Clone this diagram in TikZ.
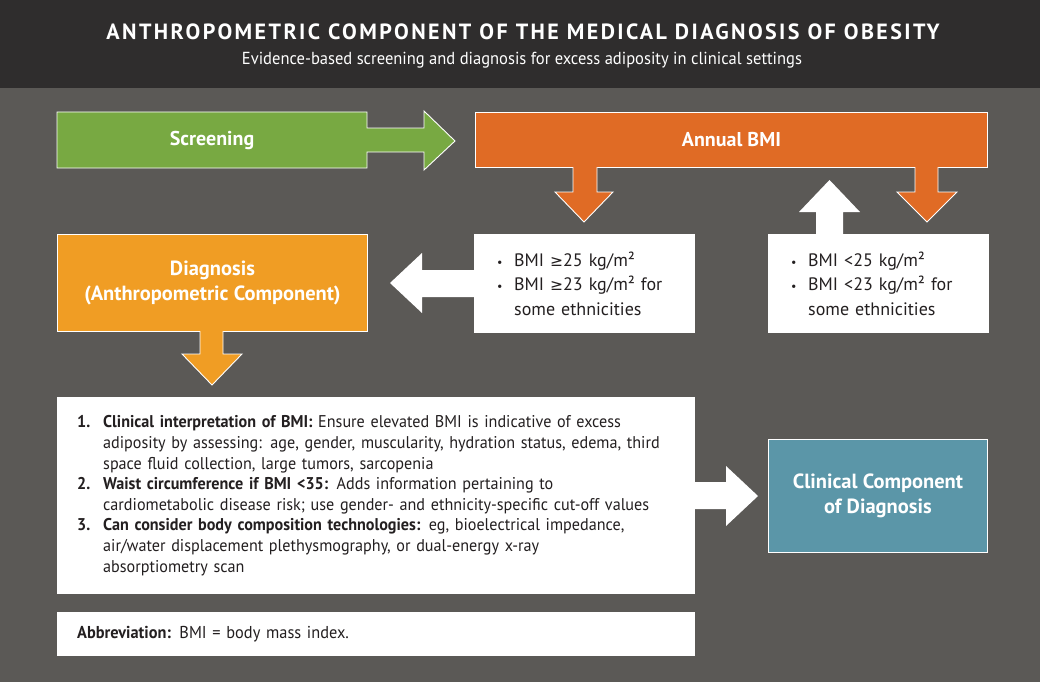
\documentclass[tikz,border=0pt]{standalone}
\usepackage{fontspec}
\setmainfont{PT Sans}
\newfontfamily\symf{DejaVu Sans}
\newfontfamily\condf[FakeStretch=0.95]{PT Sans}
\newfontfamily\subf[FakeStretch=0.95]{PT Sans}
\newfontfamily\titlef[LetterSpace=11]{PT Sans}
\definecolor{bg}{HTML}{5B5956}
\definecolor{titlebar}{HTML}{2F2D2D}
\definecolor{grn}{HTML}{78A942}
\definecolor{org}{HTML}{E06B25}
\definecolor{yel}{HTML}{F09D24}
\definecolor{tealbox}{HTML}{5B96A8}
\definecolor{ink}{HTML}{231F20}
\tikzset{
  colbox/.style={draw=white, line width=0.9pt, text=white, inner sep=0pt, anchor=north west,
     font=\bfseries\fontsize{20}{26}\selectfont, align=center},
  whitebox/.style={fill=white, draw=none, text=ink, anchor=north west, inner ysep=0pt},
  outl/.style={draw=white, line width=0.9pt, line join=miter},
}
\newcommand{\gesym}{{\symf\fontsize{15.5}{15.5}\selectfont ≥}}
\newcommand{\bul}{\makebox[17pt][l]{\fontsize{12}{12}\selectfont •}}
\begin{document}
\begin{tikzpicture}[x=1pt,y=-1pt]
\useasboundingbox (0,0) rectangle (1040,682);
\fill[bg] (0,0) rectangle (1040,682);
\fill[titlebar] (0,0) rectangle (1040,88);
\node[text=white, font=\titlef\bfseries\fontsize{22}{26}\selectfont] (title) at (523,32)
  {ANTHROPOMETRIC COMPONENT OF THE MEDICAL DIAGNOSIS OF OBESITY};
\node[text=white, font=\subf\fontsize{17.4}{20}\selectfont] (subtitle) at (522,60)
  {Evidence-based screening and diagnosis for excess adiposity in clinical settings};

% Screening arrow
\filldraw[fill=grn, outl] (57,112) -- (367,112) -- (367,128) -- (424,128) -- (424,111) -- (455,141)
  -- (424,170) -- (424,152) -- (367,152) -- (367,168) -- (57,168) -- cycle;
\node[text=white, font=\bfseries\fontsize{20}{26}\selectfont] (screen) at (212,140) {Screening};

% Annual BMI
\node[colbox, fill=org, minimum width=512pt, minimum height=55pt] (bmi) at (475,112) {Annual BMI};

% orange down arrows
\fill[org] (573,166) -- (573,192) -- (555,192) -- (584,222) -- (613,192) -- (597,192) -- (597,166) -- cycle;
\draw[outl] (573,167) -- (573,192) -- (555,192) -- (584,222) -- (613,192) -- (597,192) -- (597,167);
\fill[org] (915,166) -- (915,192) -- (897,192) -- (927,222) -- (957,192) -- (938,192) -- (938,166) -- cycle;
\draw[outl] (915,167) -- (915,192) -- (897,192) -- (927,222) -- (957,192) -- (938,192) -- (938,167);

% white up arrow
\fill[white] (816,235) -- (816,212) -- (799,212) -- (829.5,180) -- (860,212) -- (843,212) -- (843,235) -- cycle;

% bullet boxes
\node[whitebox, minimum width=221pt, minimum height=99pt, text width=175pt, inner xsep=23pt, align=left,
  font=\fontsize{18}{24.5}\selectfont] (hi) at (474,234)
  {\bul BMI \gesym25 kg/m²\\ \bul BMI \gesym23 kg/m² for\\ \hspace*{17pt}some ethnicities};
\node[whitebox, minimum width=221pt, minimum height=99pt, text width=175pt, inner xsep=23pt, align=left,
  font=\fontsize{18}{24.5}\selectfont] (lo) at (768,234)
  {\bul BMI <25 kg/m²\\ \bul BMI <23 kg/m² for\\ \hspace*{17pt}some ethnicities};

% white left arrow
\fill[white] (475,270) -- (422,270) -- (422,253) -- (390,283) -- (422,313) -- (422,297) -- (475,297) -- cycle;

% Diagnosis
\node[colbox, fill=yel, minimum width=310pt, minimum height=97pt, font=\bfseries\fontsize{20.5}{25}\selectfont] (diag) at (57,234)
  {Diagnosis\\(Anthropometric Component)};
\fill[yel] (200,330) -- (200,354) -- (182,354) -- (212,385) -- (242,354) -- (223,354) -- (223,330) -- cycle;
\draw[outl] (200,331) -- (200,354) -- (182,354) -- (212,385) -- (242,354) -- (223,354) -- (223,331);

% list box
\node[whitebox, minimum width=638pt, minimum height=197pt, text width=598pt, inner xsep=20pt, align=left,
  font=\condf\fontsize{17}{20.6}\selectfont] (list) at (57,397)
  {\makebox[26pt][l]{\bfseries 1.}\textbf{Clinical interpretation of BMI:} Ensure elevated BMI is indicative of excess\\
   \hspace*{26pt}adiposity by assessing: age, gender, muscularity, hydration status, edema, third\\
   \hspace*{26pt}space fluid collection, large tumors, sarcopenia\\
   \makebox[26pt][l]{\bfseries 2.}\textbf{Waist circumference if BMI <35:} Adds information pertaining to\\
   \hspace*{26pt}cardiometabolic disease risk; use gender- and ethnicity-specific cut-off values\\
   \makebox[26pt][l]{\bfseries 3.}\textbf{Can consider body composition technologies:} eg, bioelectrical impedance,\\
   \hspace*{26pt}air/water displacement plethysmography, or dual-energy x-ray\\
   \hspace*{26pt}absorptiometry scan};

% white right arrow
\fill[white] (694,482) -- (726,482) -- (726,466) -- (758,496) -- (726,526) -- (726,509) -- (694,509) -- cycle;

% Clinical component
\node[colbox, fill=tealbox, minimum width=219pt, minimum height=113pt, font=\bfseries\fontsize{20.5}{25}\selectfont] (clin) at (768,439)
  {Clinical Component\\of Diagnosis};

% abbreviation
\node[whitebox, minimum width=638pt, minimum height=44pt, text width=598pt, inner xsep=20pt, align=left,
  font=\condf\fontsize{17.2}{20}\selectfont] (abbr) at (57,612)
  {\textbf{Abbreviation:} BMI = body mass index.};
\end{tikzpicture}
\end{document}
